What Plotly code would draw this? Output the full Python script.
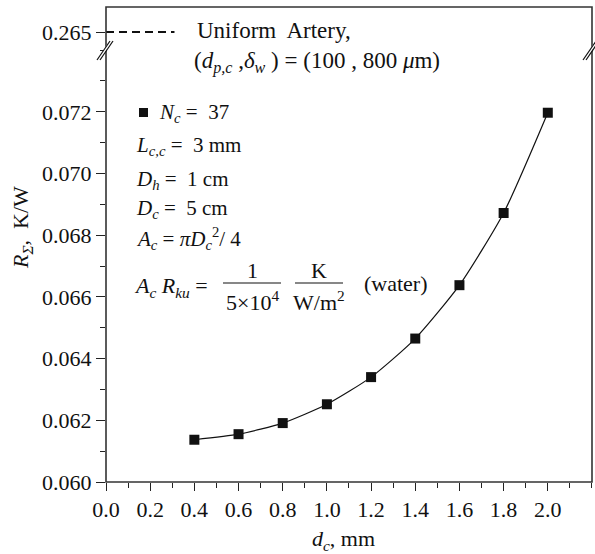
import plotly.graph_objects as go

# ---- data ----
d_c = [0.4, 0.6, 0.8, 1.0, 1.2, 1.4, 1.6, 1.8, 2.0]
R_sigma = [0.06137, 0.06155, 0.06191, 0.06252, 0.06340, 0.06465, 0.06638, 0.06872, 0.07197]
uniform_x = [0.0, 0.31]
uniform_R = [0.265, 0.265]
x_ticks = [0.0, 0.2, 0.4, 0.6, 0.8, 1.0, 1.2, 1.4, 1.6, 1.8, 2.0]
y_ticks = [0.060, 0.062, 0.064, 0.066, 0.068, 0.070, 0.072]

W, H = 595, 554
ML, MR, MT, MB = 106, 3, 7, 72
PW, PH = W - ML - MR, H - MT - MB

def px(x):
    return (x - ML) / PW

def py(y):
    return (H - MB - y) / PH

FONT = "Liberation Serif"
BLACK = "#111111"
brk = py(50)

fig = go.Figure()
fig.add_trace(go.Scatter(
    x=d_c, y=R_sigma, mode="lines+markers",
    line=dict(color=BLACK, width=1.2, shape="spline", smoothing=0.6),
    marker=dict(symbol="square", size=10, color=BLACK),
    xaxis="x", yaxis="y", showlegend=False))
fig.add_trace(go.Scatter(
    x=uniform_x, y=uniform_R, mode="lines",
    line=dict(color=BLACK, width=2, dash="8px,5px"),
    xaxis="x", yaxis="y2", showlegend=False, cliponaxis=False))

tickfont = dict(family=FONT, size=22, color=BLACK)
fig.update_layout(
    width=W, height=H,
    margin=dict(l=ML, r=MR, t=MT, b=MB),
    paper_bgcolor="white", plot_bgcolor="white",
    font=dict(family=FONT, color=BLACK),
    xaxis=dict(range=[0, PW / 220.9], tickvals=x_ticks, tickformat=".1f",
               ticks="outside", ticklen=8, tickwidth=1.4, tickcolor="#222",
               minor=dict(dtick=0.1, tick0=0, ticks="outside", ticklen=5, tickwidth=1.4, tickcolor="#222"),
               showgrid=False, zeroline=False, showline=False, tickfont=tickfont,
               anchor="y"),
    yaxis=dict(domain=[0, brk], range=[0.060, 0.060 + (PH * brk) / 61.7 * 0.002],
               tickvals=y_ticks, tickformat=".3f",
               ticks="outside", ticklen=9, tickwidth=1.4, tickcolor="#222",
               minor=dict(dtick=0.001, tick0=0.060, ticks="outside", ticklen=5, tickwidth=1.4, tickcolor="#222"),
               showgrid=False, zeroline=False, showline=False, tickfont=tickfont,
               anchor="x"),
    yaxis2=dict(domain=[brk, 1],
                range=[0.265 - 18 / 30.85 * 0.001, 0.265 + 25 / 30.85 * 0.001],
                tickvals=[0.265], ticktext=["0.265"],
                ticks="outside", ticklen=9, tickwidth=1.4, tickcolor="#222",
                showgrid=False, zeroline=False, showline=False, tickfont=tickfont,
                anchor="x"),
)

shapes = []
# frame
shapes.append(dict(type="rect", xref="paper", yref="paper", x0=0, x1=1, y0=0, y1=1,
                   line=dict(color="#333", width=1.6)))
# axis breaks
for cx in (ML - 1, W - MR - 1):
    shapes.append(dict(type="path", xref="paper", yref="paper",
                       path=f"M {px(cx-7)} {py(58)} L {px(cx+5)} {py(40)} L {px(cx+8)} {py(40)} L {px(cx-4)} {py(58)} Z",
                       fillcolor="white", line=dict(width=0)))
    for off in (0, 3):
        shapes.append(dict(type="line", xref="paper", yref="paper",
                           x0=px(cx - 8 + off), y0=py(60), x1=px(cx + 5 + off), y1=py(41),
                           line=dict(color=BLACK, width=1.2)))
# legend square
shapes.append(dict(type="rect", xref="paper", yref="paper",
                   x0=px(139), x1=px(148), y0=py(117), y1=py(108),
                   fillcolor=BLACK, line=dict(width=0)))
# fraction bars
shapes.append(dict(type="line", xref="paper", yref="paper", x0=px(223), x1=px(281), y0=py(283), y1=py(283),
                   line=dict(color=BLACK, width=1.2)))
shapes.append(dict(type="line", xref="paper", yref="paper", x0=px(295), x1=px(343), y0=py(283), y1=py(283),
                   line=dict(color=BLACK, width=1.2)))
fig.update_layout(shapes=shapes)

def ann(x, y, text, xanchor="left", size=21, angle=0):
    fig.add_annotation(x=px(x), y=py(y), xref="paper", yref="paper", text=text,
                       showarrow=False, xanchor=xanchor, yanchor="middle",
                       font=dict(family=FONT, size=size, color=BLACK), textangle=angle)

ann(195, 31, "Uniform  Artery,", size=23)
ann(192, 62, "(<i>d</i><sub><i>p,c</i></sub> ,<i>δ</i><sub><i>w</i></sub> ) = (100 , 800 <i>μ</i>m)", size=23)
ann(157, 113, "<i>N</i><sub><i>c</i></sub> =  37")
ann(134, 146, "<i>L</i><sub><i>c,c</i></sub> =  3 mm")
ann(134, 180, "<i>D</i><sub><i>h</i></sub> =  1 cm")
ann(134, 209, "<i>D</i><sub><i>c</i></sub> =  5 cm")
ann(134, 238, "<i>A</i><sub><i>c</i></sub> = <i>πD</i><sub><i>c</i></sub><sup>2</sup>/ 4")
ann(132, 287, "<i>A</i><sub><i>c</i></sub> <i>R</i><sub><i>ku</i></sub> =", size=22)
ann(252, 270, "1", xanchor="center", size=22)
ann(252, 301, "5×10<sup>4</sup>", xanchor="center", size=22)
ann(319, 270, "K", xanchor="center", size=22)
ann(319, 301, "W/m<sup>2</sup>", xanchor="center", size=22)
ann(362, 283, "(water)", size=22)
# axis titles
ann(343, 540, "<i>d</i><sub><i>c</i></sub>, mm", xanchor="center", size=22)
fig.add_annotation(x=px(22), y=py(228), xref="paper", yref="paper",
                   text="<i>R</i><sub><i>Σ</i></sub>,  K/W", showarrow=False,
                   textangle=-90, xanchor="center", yanchor="middle",
                   font=dict(family=FONT, size=22, color=BLACK))

fig.write_html("out.html")
